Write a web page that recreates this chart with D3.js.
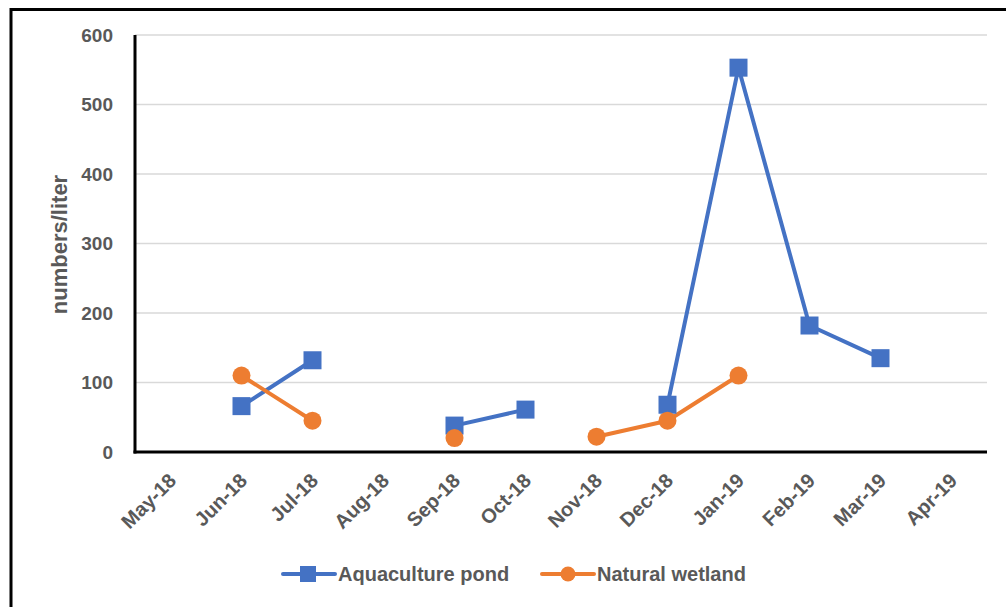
<!DOCTYPE html>
<html><head><meta charset="utf-8">
<script src="https://cdn.jsdelivr.net/npm/d3@7"></script>
<style>body{margin:0;background:#fff}svg{display:block}</style>
</head><body>
<script>
const categories = ["May-18","Jun-18","Jul-18","Aug-18","Sep-18","Oct-18","Nov-18","Dec-18","Jan-19","Feb-19","Mar-19","Apr-19"];
const aquaculture = [null, 66, 132, null, 38, 61, null, 68, 553, 182, 135, null];
const wetland = [null, 110, 45, null, 20, null, 22, 45, 110, null, null, null];
const yTicks = [0,100,200,300,400,500,600];
const seriesNames = ["Aquaculture pond","Natural wetland"];
const colors = ["#4472C4","#ED7D31"];

(function(){
const W = 1006, H = 607;
const svg = d3.select("body").append("svg").attr("width", W).attr("height", H);
svg.append("rect").attr("x",11).attr("y",9.5).attr("width",1010).attr("height",620)
  .attr("fill","#fff").attr("stroke","#000").attr("stroke-width",3);

const pL = 135, pR = 987, pT = 35, pB = 452;
const x = d3.scaleBand().domain(categories).range([pL, pR]);
const y = d3.scaleLinear().domain([0, 600]).range([pB, pT]);
const font = "'Liberation Sans', Arial, sans-serif";
const fs = 20;

// gridlines
svg.append("g").selectAll("line").data(yTicks.filter(d=>d>0)).join("line")
  .attr("x1", pL).attr("x2", pR).attr("y1", d=>y(d)).attr("y2", d=>y(d))
  .attr("stroke","#d9d9d9").attr("stroke-width",1.5);

// y axis
const yAxis = svg.append("g").attr("transform",`translate(${pL},0)`)
  .call(d3.axisLeft(y).tickValues(yTicks).tickSize(0).tickPadding(22));
yAxis.select(".domain").remove();
yAxis.selectAll("text").attr("font-family",font).attr("font-weight","bold")
  .attr("font-size",19).attr("fill","#595959");
svg.append("line").attr("x1",pL).attr("x2",pL).attr("y1",pT).attr("y2",pB+1.5)
  .attr("stroke","#000").attr("stroke-width",3);

// x axis
const xAxis = svg.append("g").attr("transform",`translate(0,${pB})`)
  .call(d3.axisBottom(x).tickSize(0).tickPadding(0));
xAxis.select(".domain").remove();
xAxis.selectAll(".tick text").attr("font-family",font).attr("font-weight","bold")
  .attr("font-size",fs).attr("fill","#595959")
  .attr("text-anchor","end").attr("dy","0.35em").attr("y",0)
  .attr("transform", `translate(2,25) rotate(-45)`);
svg.append("line").attr("x1",pL-1.5).attr("x2",pR).attr("y1",pB).attr("y2",pB)
  .attr("stroke","#000").attr("stroke-width",3);

// y label
svg.append("text").attr("transform",`translate(67,${(pT+pB)/2 + 1}) rotate(-90)`)
  .attr("text-anchor","middle").attr("font-family",font).attr("font-weight","bold")
  .attr("font-size",22).attr("fill","#595959").text("numbers/liter");

const cx = c => x(c) + x.bandwidth()/2;
const line = d3.line().defined(d=>d.v!=null).x(d=>cx(d.c)).y(d=>y(d.v));
const data = [aquaculture, wetland].map(arr => categories.map((c,i)=>({c, v: arr[i]})));

data.forEach((ser, si) => {
  svg.append("path").datum(ser).attr("d", line).attr("fill","none")
    .attr("stroke", colors[si]).attr("stroke-width",4).attr("stroke-linejoin","round");
});
svg.append("g").selectAll("rect").data(data[0].filter(d=>d.v!=null)).join("rect")
  .attr("x", d=>cx(d.c)-9).attr("y", d=>y(d.v)-9).attr("width",18).attr("height",18)
  .attr("fill", colors[0]);
svg.append("g").selectAll("circle").data(data[1].filter(d=>d.v!=null)).join("circle")
  .attr("cx", d=>cx(d.c)).attr("cy", d=>y(d.v)).attr("r",9).attr("fill", colors[1]);

// legend
const legX = [283, 542], legY = 574;
seriesNames.forEach((n, i) => {
  const g = svg.append("g").attr("transform",`translate(${legX[i]},${legY})`);
  g.append("line").attr("x1",0).attr("x2",52).attr("y1",0).attr("y2",0)
    .attr("stroke",colors[i]).attr("stroke-width",4).attr("stroke-linecap","round");
  if (i===0) g.append("rect").attr("x",17).attr("y",-8).attr("width",16).attr("height",16).attr("fill",colors[i]);
  else g.append("circle").attr("cx",26).attr("cy",0).attr("r",7.5).attr("fill",colors[i]);
  g.append("text").attr("x",55).attr("y",7).attr("font-family",font).attr("font-weight","bold")
    .attr("font-size",fs).attr("fill","#595959").text(n);
});
})();
</script>
</body></html>
